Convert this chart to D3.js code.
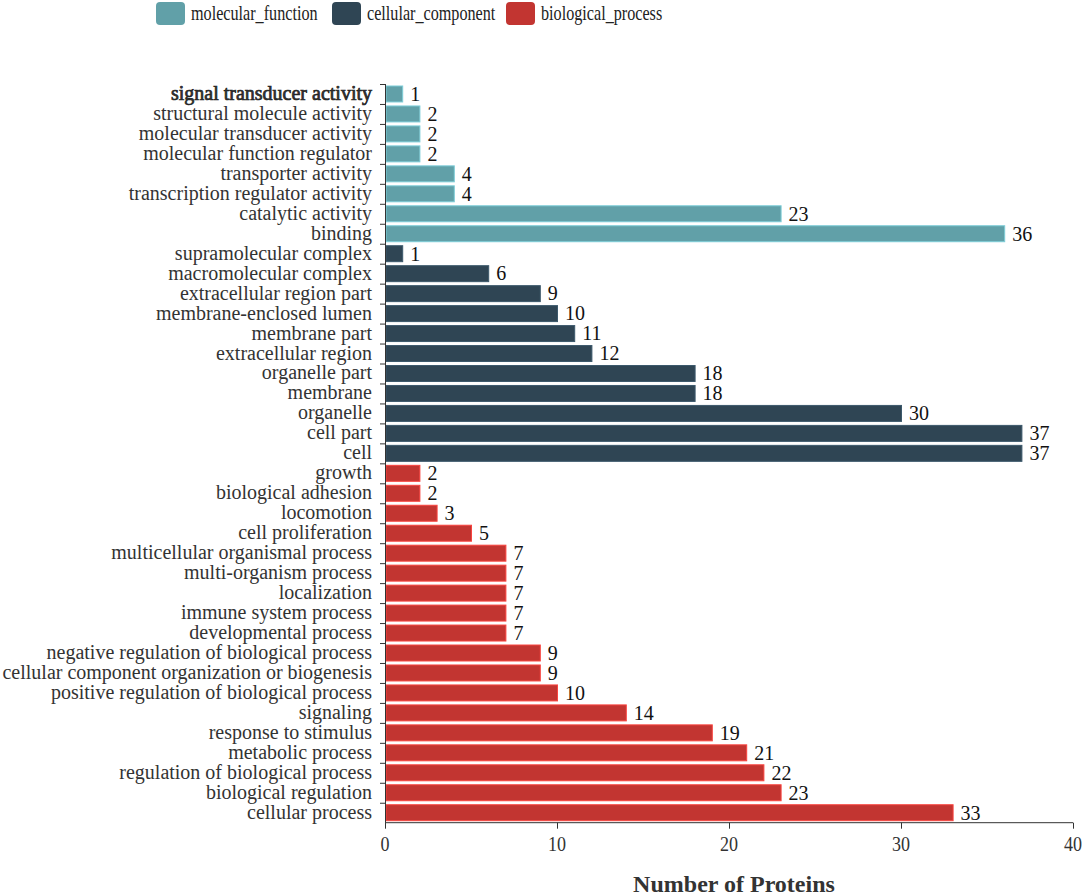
<!DOCTYPE html>
<html><head><meta charset="utf-8">
<script src="https://cdn.jsdelivr.net/npm/d3@7"></script>
<style>body{margin:0;background:#fff}svg{display:block}text{font-family:"Liberation Serif","Times New Roman",serif}</style>
</head><body><svg id="c" width="1084" height="896"></svg>
<script>
const mfNames = ["signal transducer activity","structural molecule activity","molecular transducer activity","molecular function regulator","transporter activity","transcription regulator activity","catalytic activity","binding"];
const mfValues = [1,2,2,2,4,4,23,36];
const ccNames = ["supramolecular complex","macromolecular complex","extracellular region part","membrane-enclosed lumen","membrane part","extracellular region","organelle part","membrane","organelle","cell part","cell"];
const ccValues = [1,6,9,10,11,12,18,18,30,37,37];
const bpNames = ["growth","biological adhesion","locomotion","cell proliferation","multicellular organismal process","multi-organism process","localization","immune system process","developmental process","negative regulation of biological process","cellular component organization or biogenesis","positive regulation of biological process","signaling","response to stimulus","metabolic process","regulation of biological process","biological regulation","cellular process"];
const bpValues = [2,2,3,5,7,7,7,7,7,9,9,10,14,19,21,22,23,33];
const seriesNames = ["molecular_function","cellular_component","biological_process"];
const seriesColors = ["#61a0a8","#2f4554","#c23531"];
const xTicks = [0,10,20,30,40];
const xTitle = "Number of Proteins";

(function(){
const rows = [];
[[mfNames,mfValues],[ccNames,ccValues],[bpNames,bpValues]].forEach(([n,v],s)=>{
  n.forEach((name,i)=>rows.push({name, value:v[i], s}));
});

const svg = d3.select("#c");
const mL = 385, mR = 1073, mT = 84, mB = 822.7;
const x = d3.scaleLinear().domain([0,40]).range([mL,mR]);
const y = d3.scaleBand().domain(rows.map(d=>d.name)).range([mT,mB]).paddingInner(0.2).paddingOuter(0.1);
const step = y.step();

svg.append("g").selectAll("rect").data(rows).join("rect")
  .attr("x", x(0)+1).attr("y", d=>y(d.name))
  .attr("width", d=>x(d.value)-x(0)-0.5).attr("height", y.bandwidth())
  .attr("fill", d=>seriesColors[d.s])
  .attr("stroke", d=>d3.color(seriesColors[d.s]).brighter(0.7))
  .attr("stroke-width", 1);

svg.append("g").selectAll("text").data(rows).join("text")
  .attr("x", d=>x(d.value)+8).attr("y", d=>y(d.name)+y.bandwidth()/2)
  .attr("dy","0.34em").attr("font-size",20).attr("fill","#111")
  .text(d=>d.value);

const yg = svg.append("g");
yg.append("line").attr("x1",mL+0.5).attr("x2",mL+0.5).attr("y1",mT).attr("y2",mB).attr("stroke","#333");
yg.selectAll("line.t").data(rows).join("line").attr("class","t")
  .attr("x1",mL-5).attr("x2",mL).attr("y1",(d,i)=>mT+i*step+0.5).attr("y2",(d,i)=>mT+i*step+0.5).attr("stroke","#333");
yg.selectAll("text").data(rows).join("text")
  .attr("x", mL-13).attr("y", d=>y(d.name)+y.bandwidth()/2)
  .attr("dy","0.3em").attr("text-anchor","end").attr("font-size",20).attr("fill","#333")
  .attr("stroke",(d,i)=>i===0?"#222":null).attr("stroke-width",(d,i)=>i===0?0.7:null)
  .text(d=>d.name);

const xg = svg.append("g").attr("transform",`translate(0,${mB})`);
xg.append("line").attr("x1",mL).attr("x2",mR).attr("y1",0).attr("y2",0).attr("stroke","#333");
xg.selectAll("line.t").data(xTicks).join("line").attr("class","t")
  .attr("x1",d=>x(d)+0.5).attr("x2",d=>x(d)+0.5).attr("y1",0).attr("y2",6).attr("stroke","#333");
xg.selectAll("text").data(xTicks).join("text")
  .attr("transform",d=>`translate(${x(d)},28.5) scale(0.82,1)`)
  .attr("text-anchor","middle").attr("font-size",22).attr("fill","#333")
  .text(d=>d);
svg.append("text").attr("x",734).attr("y",892).attr("text-anchor","middle")
  .attr("font-size",24).attr("font-weight","bold").attr("fill","#333").text(xTitle);

const legX = [156,332,506];
const lg = svg.append("g");
seriesNames.forEach((n,i)=>{
  lg.append("rect").attr("x",legX[i]).attr("y",2).attr("width",29).attr("height",23).attr("rx",4).attr("fill",seriesColors[i]);
  lg.append("text").attr("transform",`translate(${legX[i]+35},20) scale(0.77,1)`)
    .attr("font-size",21).attr("fill","#222").text(n);
});
})();
</script></body></html>
